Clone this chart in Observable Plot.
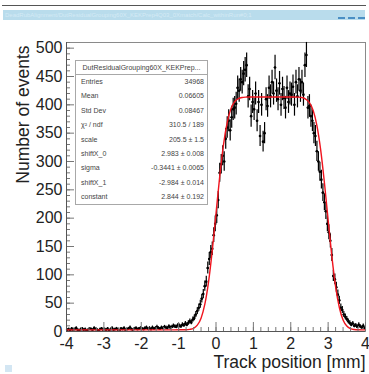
<!DOCTYPE html>
<html>
<head>
<meta charset="utf-8">
<script src="https://cdn.jsdelivr.net/npm/d3@7"></script>
<script src="https://cdn.jsdelivr.net/npm/@observablehq/plot@0.6"></script>
<style>
  html, body { margin: 0; padding: 0; background: #fff; }
  #wrap { position: relative; width: 369px; height: 374px; overflow: hidden; font-family: "Liberation Sans", Arial, Helvetica, sans-serif; }
  #topline { position: absolute; left: 2px; top: 5px; width: 364px; height: 1px; background: #555; }
  #topbar { position: absolute; left: 3px; top: 10px; width: 362px; height: 10px; background: #b9dcec; color: #d4eaf5; font-size: 6px; line-height: 10px; padding-left: 2px; box-sizing: border-box; white-space: nowrap; overflow: hidden; }
  #dashes { position: absolute; left: 338px; top: 17px; width: 28px; height: 2px; background: repeating-linear-gradient(90deg, #4a8fc4 0 7px, transparent 7px 10px); }
  #corner { position: absolute; left: 5px; top: 365px; width: 7px; height: 7px; background: #d3e6f3; }
  #stats { position: absolute; left: 75px; top: 60px; width: 133px; height: 145px; border: 1px solid #a8a8a8; background: #fff; box-sizing: border-box; color: #444; font-size: 7px; }
  #stats .title { height: 13px; line-height: 13px; text-align: center; border-bottom: 1px solid #a8a8a8; }
  #stats .row { position: relative; height: 14.4px; line-height: 14.4px; }
  #stats .row .n { position: absolute; left: 5px; }
  #stats .row .v { position: absolute; right: 3px; }
  #plot { position: absolute; left: 0; top: 0; }
</style>
</head>
<body>
<div id="wrap">
  <div id="plot"></div>
  <div id="topline"></div>
  <div id="topbar">DeadRubAlignment/DutResidualGrouping60X_KEKPrep4Q03_0Xmatch/Calc_withinRun#0;1</div>
  <div id="dashes"></div>
  <div id="corner"></div>
  <div id="stats"></div>
</div>
<script>
// ---- histogram data (200 bins, -4 .. 4 mm) ----
const binStart = -4;
const binWidth = 0.04;
const counts = [
  // -4 .. -3
  3,4,2,5,3,4,6,3,2,4,5,3,4,2,3,5,4,3,6,4,3,2,4,5,3,
  // -3 .. -2
  4,3,5,2,4,6,3,4,5,3,2,5,4,6,3,4,5,7,4,3,5,6,4,5,6,
  // -2 .. -1
  5,4,6,7,5,6,4,7,5,6,8,6,5,7,6,8,7,6,9,7,8,10,9,8,11,
  // -1 .. 0
  10,9,12,11,14,12,15,18,16,21,24,30,36,42,48,58,66,80,88,112,128,140,146,170,190,
  // 0 .. 1
  205,232,280,295,310,300,340,360,372,355,378,392,395,402,430,425,445,440,455,462,470,415,428,380,405,
  // 1 .. 2
  392,420,372,405,345,400,335,350,410,398,430,415,440,420,466,425,410,438,400,428,412,395,430,405,420,
  // 2 .. 3
  418,432,400,440,415,445,425,440,418,470,488,395,398,380,372,350,345,318,300,282,268,245,228,212,190,
  // 3 .. 4
  175,160,135,98,92,78,65,55,42,38,30,26,22,18,15,12,14,10,11,8,12,9,7,10,6
];

// ---- fitted curve ----
const fitX = [-4,-1.2,-1.0,-0.8,-0.7,-0.6,-0.5,-0.4,-0.3,-0.2,-0.1,0,0.1,0.2,0.3,0.4,0.5,0.6,0.7,0.8,0.9,1.5,2.1,2.2,2.3,2.4,2.5,2.6,2.7,2.8,2.9,3.0,3.1,3.2,3.3,3.4,3.5,3.6,3.7,3.8,4.0];
const fitY = [2.9,2.9,3.0,3.0,3.7,5.6,11.2,23.5,47.8,87.3,142.8,208.3,273.8,329.5,368.8,393.3,405.6,411,413,413.6,413.8,413.8,413.8,413.6,413,410,404,390,363.5,321,263,197,132.5,79.3,42.4,20.3,9.6,5.1,3.5,3.0,2.9];

// ---- axes ----
const xTicks = [-4,-3,-2,-1,0,1,2,3,4];
const xMinor = d3.range(-40, 41, 2).map(d => d / 10);
const yTicks = [0,50,100,150,200,250,300,350,400,450,500];
const yMinor = d3.range(0, 511, 10);

// ---- stats box ----
const statTitle = "DutResidualGrouping60X_KEKPrep...";
const statNames = ["Entries","Mean","Std Dev","χ² / ndf","scale","shiftX_0","sigma","shiftX_1","constant"];
const statValues = ["34968","0.06605","0.08467","310.5 / 189","205.5 ± 1.5","2.983 ± 0.008","-0.3441 ± 0.0065","-2.984 ± 0.014","2.844 ± 0.192"];

const bins = counts.map((c, i) => {
  const x = binStart + binWidth * (i + 0.5);
  const e = Math.sqrt(c);
  return {x, x1: x - binWidth / 2, x2: x + binWidth / 2, y: c, ylo: Math.max(0, c - e), yhi: c + e};
});
const fit = fitX.map((x, i) => ({x, y: fitY[i]}));

const font = "'Liberation Sans', Arial, Helvetica, sans-serif";

const chart = Plot.plot({
  width: 369,
  height: 374,
  marginLeft: 66,
  marginRight: 4,
  marginTop: 42,
  marginBottom: 43,
  style: {fontFamily: font, background: "transparent", overflow: "visible"},
  x: {domain: [-4, 4]},
  y: {domain: [0, 510]},
  marks: [
    Plot.frame({stroke: "#8a8a8a", strokeWidth: 1}),
    Plot.ruleX(bins, {x: "x", y1: "ylo", y2: "yhi", stroke: "#000", strokeWidth: 1.2}),
    Plot.ruleY(bins, {y: "y", x1: "x1", x2: "x2", stroke: "#000", strokeWidth: 1.2}),
    Plot.dot(bins, {x: "x", y: "y", r: 1.3, fill: "#000", stroke: "none"}),
    Plot.line(fit, {x: "x", y: "y", curve: "monotone-x", stroke: "#f0141e", strokeWidth: 1.4}),
    Plot.axisX({ticks: xMinor, tickSize: -4, text: null, stroke: "#777", label: null}),
    Plot.axisX({ticks: xTicks, tickSize: -9, tickPadding: 15, tickFormat: d => String(d).replace("−", "-"),
      fontSize: 16, fill: "#222", stroke: "#777", label: null}),
    Plot.axisY({ticks: yMinor, tickSize: -4, text: null, stroke: "#777", label: null}),
    Plot.axisY({ticks: yTicks, tickSize: -8, tickPadding: 12, tickFormat: d => String(d),
      fontSize: 16, fill: "#222", stroke: "#777", label: null}),
    Plot.ruleX([-4], {stroke: "#555"}),
    Plot.ruleY([0], {stroke: "#555"}),
    Plot.text(["Track position [mm]"], {frameAnchor: "bottom-right", dy: 36, textAnchor: "end", fontSize: 17.5, fill: "#222"}),
    Plot.text(["Number of events"], {frameAnchor: "top-left", dx: -50, dy: 3, rotate: -90, textAnchor: "end", fontSize: 17.5, fill: "#222"})
  ]
});
document.getElementById("plot").appendChild(chart);

const stats = document.getElementById("stats");
const t = document.createElement("div");
t.className = "title";
t.textContent = statTitle;
stats.appendChild(t);
statNames.forEach((n, i) => {
  const r = document.createElement("div");
  r.className = "row";
  const a = document.createElement("span"); a.className = "n"; a.textContent = n;
  const b = document.createElement("span"); b.className = "v"; b.textContent = statValues[i];
  r.appendChild(a); r.appendChild(b);
  stats.appendChild(r);
});
</script>
</body>
</html>
